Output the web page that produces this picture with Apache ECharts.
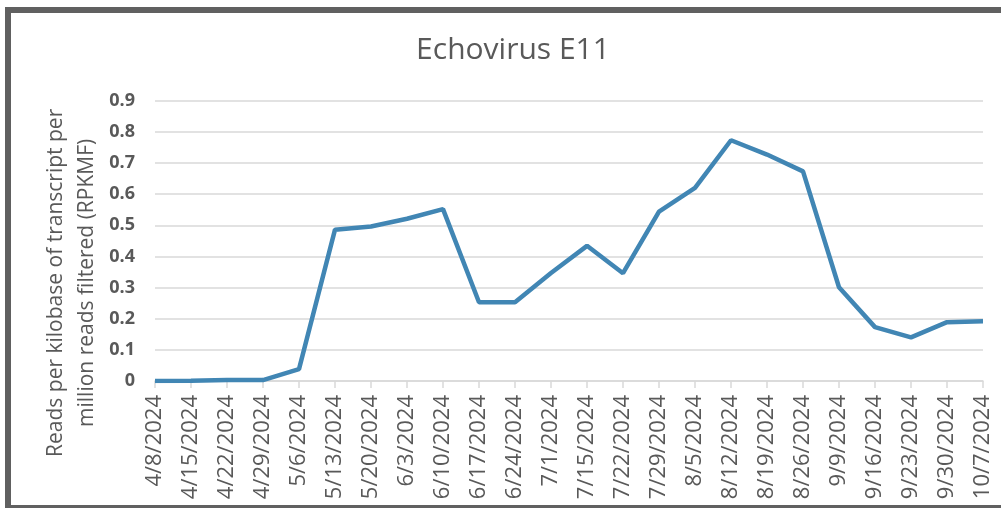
<!DOCTYPE html>
<html>
<head>
<meta charset="utf-8">
<title>Echovirus E11</title>
<script src="https://cdn.jsdelivr.net/npm/echarts@6/dist/echarts.min.js"></script>
<style>
    html, body { margin: 0; padding: 0; background: #fff; }
    #main { position: absolute; left: 0; top: 0; width: 1001px; height: 508px; }
    .frame {
        position: absolute; left: 5px; top: 7px; width: 1010px; height: 504px;
        box-sizing: border-box; border: 6px solid #606060; pointer-events: none;
    }
</style>
</head>
<body>
<div id="main"></div>
<div class="frame"></div>
<script>
// 采样日期
var dates = ['4/8/2024', '4/15/2024', '4/22/2024', '4/29/2024', '5/6/2024', '5/13/2024',
    '5/20/2024', '6/3/2024', '6/10/2024', '6/17/2024', '6/24/2024', '7/1/2024',
    '7/15/2024', '7/22/2024', '7/29/2024', '8/5/2024', '8/12/2024', '8/19/2024',
    '8/26/2024', '9/9/2024', '9/16/2024', '9/23/2024', '9/30/2024', '10/7/2024'];
// RPKMF
var rpkmf = [0, 0.001, 0.003, 0.003, 0.038, 0.486,
    0.496, 0.521, 0.552, 0.253, 0.253, 0.347,
    0.434, 0.346, 0.544, 0.620, 0.773, 0.727,
    0.673, 0.301, 0.173, 0.140, 0.189, 0.192];
var yMin = 0, yMax = 0.9, yStep = 0.1;

var myChart = echarts.init(document.getElementById('main'));
myChart.setOption({
    backgroundColor: '#fff',
    animation: false,
    title: {
        text: 'Echovirus E11',
        left: 508,
        textAlign: 'center',
        top: 30,
        textStyle: { fontFamily: 'Open Sans', fontSize: 30, fontWeight: 'normal', color: '#595959' }
    },
    grid: { left: 155, right: 18, top: 100.7, bottom: 127 },
    xAxis: {
        type: 'category',
        data: dates,
        boundaryGap: false,
        axisLine: { lineStyle: { color: '#d9d9d9', width: 1.5 } },
        axisTick: { alignWithLabel: true, length: 7, lineStyle: { color: '#d9d9d9', width: 1.5 } },
        axisLabel: {
            rotate: 90, interval: 0, margin: 14,
            fontFamily: 'Open Sans', fontSize: 22, color: '#595959'
        },
        splitLine: { show: false }
    },
    yAxis: {
        type: 'value',
        min: yMin, max: yMax, interval: yStep,
        name: 'Reads per kilobase of transcript per\nmillion reads filtered (RPKMF)',
        nameLocation: 'middle',
        nameGap: 52,
        nameMoveOverlap: false,
        // Excel 的轴标题比绘图区中心偏下
        nameTextStyle: {
            fontFamily: 'Open Sans', fontSize: 21, color: '#595959', lineHeight: 31,
            padding: [0, 84, 0, 0]
        },
        axisLine: { show: false },
        axisTick: { show: false },
        axisLabel: {
            margin: 20, fontFamily: 'Open Sans', fontWeight: 'bold', fontSize: 18, color: '#595959',
            formatter: function (v) { return v === 0 ? '0' : v.toFixed(1); }
        },
        splitLine: { lineStyle: { color: '#d9d9d9', width: 1.5 } }
    },
    series: [{
        type: 'line',
        data: rpkmf,
        showSymbol: false,
        lineStyle: { color: '#4186b4', width: 4.5 },
        itemStyle: { color: '#4186b4' }
    }]
});
</script>
</body>
</html>
